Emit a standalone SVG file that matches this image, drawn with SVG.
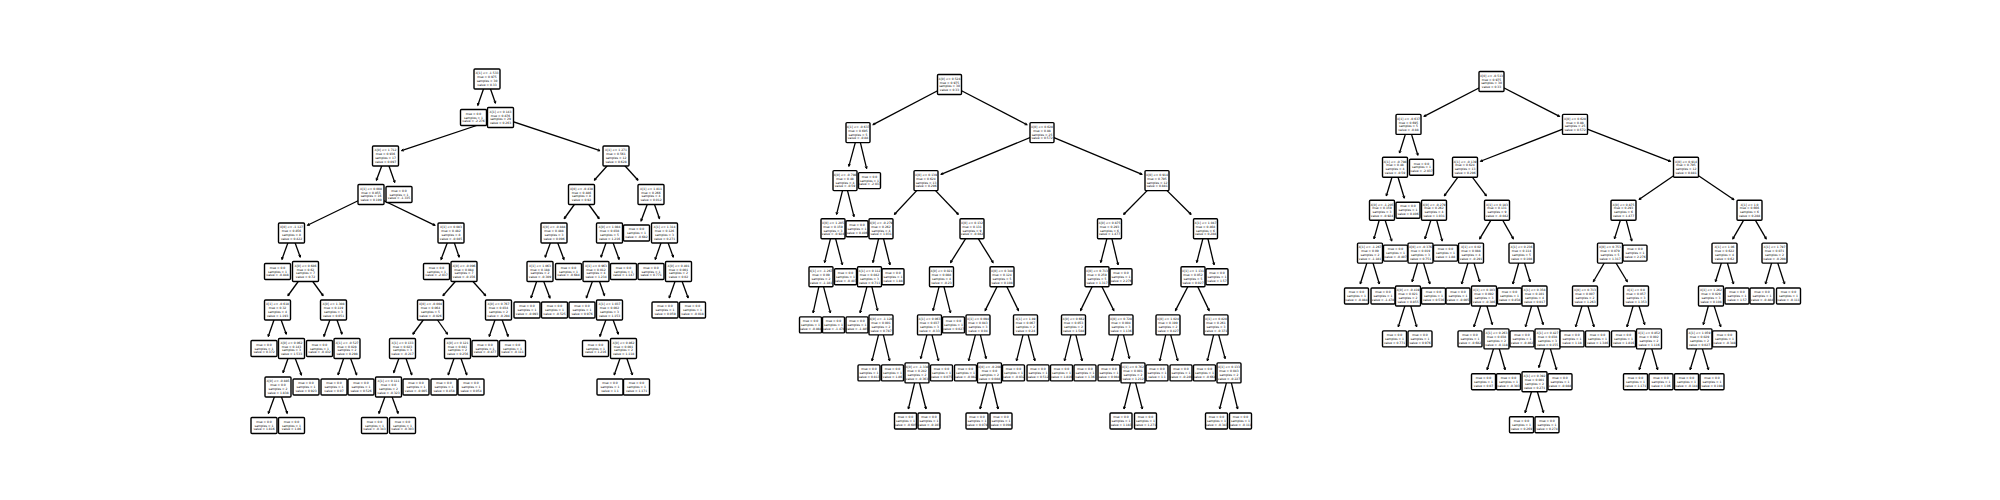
<svg xmlns="http://www.w3.org/2000/svg" xmlns:xlink="http://www.w3.org/1999/xlink" width="2000" height="500" viewBox="0 0 2000 500">
<defs>
<style>
.b{fill:#fff;stroke:#000;stroke-width:1.4}
text{font-family:"DejaVu Sans","Liberation Sans",sans-serif;font-size:3px;text-anchor:middle;fill:#000}
#connectors line{stroke:#000;stroke-width:1.3;fill:none;marker-end:url(#ah)}
</style>
<marker id="ah" viewBox="-4 -2 5 4" refX="0" refY="0" markerWidth="5" markerHeight="4" markerUnits="userSpaceOnUse" orient="auto" overflow="visible"><path d="M-2.2,-1.1 L0,0 L-2.2,1.1" fill="none" stroke="#000" stroke-width="0.9"/></marker>
<rect id="r1i" class="b" x="-13" y="-10" width="26" height="20" rx="1"/>
<rect id="r1l" class="b" x="-13" y="-8" width="26" height="16" rx="1"/>
<rect id="r2i" class="b" x="-12" y="-10" width="24" height="20" rx="1"/>
<rect id="r2l" class="b" x="-11" y="-8" width="22" height="16" rx="1"/>
<rect id="r3i" class="b" x="-12.5" y="-10" width="25" height="20" rx="1"/>
<rect id="r3l" class="b" x="-12" y="-8" width="24" height="16" rx="1"/>
</defs>
<rect width="2000" height="500" fill="#fff"/>
<g id="connectors">
<line x1="487" y1="79" x2="477.71" y2="105.5"/>
<line x1="487" y1="79" x2="495.5" y2="103.25"/>
<line x1="500.5" y1="117.5" x2="401.5" y2="150.64"/>
<line x1="500.5" y1="117.5" x2="600" y2="150.67"/>
<line x1="385.5" y1="156" x2="376.37" y2="180.25"/>
<line x1="385.5" y1="156" x2="394.79" y2="182.5"/>
<line x1="371" y1="194.5" x2="307.5" y2="225.25"/>
<line x1="371" y1="194.5" x2="435" y2="225.3"/>
<line x1="291.5" y1="233" x2="281.86" y2="259.5"/>
<line x1="291.5" y1="233" x2="300.32" y2="257.25"/>
<line x1="305.5" y1="271.5" x2="287.86" y2="295.75"/>
<line x1="305.5" y1="271.5" x2="323.14" y2="295.75"/>
<line x1="277.5" y1="310" x2="268.21" y2="336.5"/>
<line x1="277.5" y1="310" x2="286.32" y2="334.25"/>
<line x1="291.5" y1="348.5" x2="283" y2="372.75"/>
<line x1="291.5" y1="348.5" x2="301.48" y2="375"/>
<line x1="278" y1="387" x2="268.36" y2="413.5"/>
<line x1="278" y1="387" x2="287.29" y2="413.5"/>
<line x1="333.5" y1="310" x2="323.86" y2="336.5"/>
<line x1="333.5" y1="310" x2="342" y2="334.25"/>
<line x1="347" y1="348.5" x2="338.05" y2="375"/>
<line x1="347" y1="348.5" x2="356.64" y2="375"/>
<line x1="451" y1="233" x2="441.02" y2="259.5"/>
<line x1="451" y1="233" x2="459.19" y2="257.25"/>
<line x1="464" y1="271.5" x2="442.9" y2="295.75"/>
<line x1="464" y1="271.5" x2="485.73" y2="295.75"/>
<line x1="430.5" y1="310" x2="412.86" y2="334.25"/>
<line x1="430.5" y1="310" x2="447.51" y2="334.25"/>
<line x1="402.5" y1="348.5" x2="393.68" y2="372.75"/>
<line x1="402.5" y1="348.5" x2="411.79" y2="375"/>
<line x1="388.5" y1="387" x2="378.86" y2="413.5"/>
<line x1="388.5" y1="387" x2="398.14" y2="413.5"/>
<line x1="457.5" y1="348.5" x2="448.21" y2="375"/>
<line x1="457.5" y1="348.5" x2="466.79" y2="375"/>
<line x1="498.5" y1="310" x2="489.21" y2="336.5"/>
<line x1="498.5" y1="310" x2="508.14" y2="336.5"/>
<line x1="616" y1="156" x2="594.27" y2="180.25"/>
<line x1="616" y1="156" x2="638.05" y2="180.25"/>
<line x1="581.5" y1="194.5" x2="564.18" y2="218.75"/>
<line x1="581.5" y1="194.5" x2="599.14" y2="218.75"/>
<line x1="554" y1="233" x2="545.18" y2="257.25"/>
<line x1="554" y1="233" x2="563.98" y2="259.5"/>
<line x1="540" y1="271.5" x2="531.05" y2="298"/>
<line x1="540" y1="271.5" x2="549.98" y2="298"/>
<line x1="609.5" y1="233" x2="601" y2="257.25"/>
<line x1="609.5" y1="233" x2="619.14" y2="259.5"/>
<line x1="596" y1="271.5" x2="586.36" y2="298"/>
<line x1="596" y1="271.5" x2="604.5" y2="295.75"/>
<line x1="609.5" y1="310" x2="599.86" y2="336.5"/>
<line x1="609.5" y1="310" x2="618.32" y2="334.25"/>
<line x1="623.5" y1="348.5" x2="614.21" y2="375"/>
<line x1="623.5" y1="348.5" x2="632.45" y2="375"/>
<line x1="651" y1="194.5" x2="641.02" y2="221"/>
<line x1="651" y1="194.5" x2="659.5" y2="218.75"/>
<line x1="664.5" y1="233" x2="655.21" y2="259.5"/>
<line x1="664.5" y1="233" x2="673.32" y2="257.25"/>
<line x1="678.5" y1="271.5" x2="669.21" y2="298"/>
<line x1="678.5" y1="271.5" x2="688.14" y2="298"/>
<line x1="949.5" y1="84.5" x2="873" y2="124.69"/>
<line x1="949.5" y1="84.5" x2="1027" y2="124.77"/>
<line x1="858" y1="132.6" x2="848.85" y2="166.35"/>
<line x1="858" y1="132.6" x2="866.63" y2="168.6"/>
<line x1="845" y1="180.6" x2="836.56" y2="214.45"/>
<line x1="845" y1="180.6" x2="854" y2="216.7"/>
<line x1="833" y1="228.7" x2="824.56" y2="262.55"/>
<line x1="833" y1="228.7" x2="842.38" y2="264.8"/>
<line x1="821" y1="276.8" x2="813.12" y2="312.9"/>
<line x1="821" y1="276.8" x2="830.38" y2="312.9"/>
<line x1="1042" y1="132.6" x2="941" y2="174.45"/>
<line x1="1042" y1="132.6" x2="1142" y2="174.4"/>
<line x1="926" y1="180.6" x2="894.34" y2="214.45"/>
<line x1="926" y1="180.6" x2="958.37" y2="214.45"/>
<line x1="881" y1="228.7" x2="872.91" y2="262.55"/>
<line x1="881" y1="228.7" x2="890" y2="264.8"/>
<line x1="869.5" y1="276.8" x2="860.12" y2="312.9"/>
<line x1="869.5" y1="276.8" x2="877.59" y2="310.65"/>
<line x1="881" y1="324.9" x2="872" y2="360.9"/>
<line x1="881" y1="324.9" x2="889.63" y2="360.9"/>
<line x1="972" y1="228.7" x2="950.54" y2="262.55"/>
<line x1="972" y1="228.7" x2="993.11" y2="262.55"/>
<line x1="941.5" y1="276.8" x2="933.06" y2="310.65"/>
<line x1="941.5" y1="276.8" x2="950.5" y2="312.9"/>
<line x1="929.5" y1="324.9" x2="920.7" y2="358.65"/>
<line x1="929.5" y1="324.9" x2="938.5" y2="360.9"/>
<line x1="917" y1="372.9" x2="908.37" y2="409"/>
<line x1="917" y1="372.9" x2="926" y2="409"/>
<line x1="1002" y1="276.8" x2="985.11" y2="310.65"/>
<line x1="1002" y1="276.8" x2="1018.53" y2="310.65"/>
<line x1="978" y1="324.9" x2="968.62" y2="360.9"/>
<line x1="978" y1="324.9" x2="986.09" y2="358.65"/>
<line x1="989.5" y1="372.9" x2="980.12" y2="409"/>
<line x1="989.5" y1="372.9" x2="998.13" y2="409"/>
<line x1="1025.5" y1="324.9" x2="1016.5" y2="360.9"/>
<line x1="1025.5" y1="324.9" x2="1034.88" y2="360.9"/>
<line x1="1157" y1="180.6" x2="1123.58" y2="214.45"/>
<line x1="1157" y1="180.6" x2="1191.12" y2="214.45"/>
<line x1="1109.5" y1="228.7" x2="1100.7" y2="262.55"/>
<line x1="1109.5" y1="228.7" x2="1118.13" y2="264.8"/>
<line x1="1097" y1="276.8" x2="1080.47" y2="310.65"/>
<line x1="1097" y1="276.8" x2="1113.89" y2="310.65"/>
<line x1="1073.5" y1="324.9" x2="1064.5" y2="360.9"/>
<line x1="1073.5" y1="324.9" x2="1082.13" y2="360.9"/>
<line x1="1121" y1="324.9" x2="1112" y2="360.9"/>
<line x1="1121" y1="324.9" x2="1129.44" y2="358.65"/>
<line x1="1133" y1="372.9" x2="1124" y2="409"/>
<line x1="1133" y1="372.9" x2="1142.38" y2="409"/>
<line x1="1205.5" y1="228.7" x2="1196.7" y2="262.55"/>
<line x1="1205.5" y1="228.7" x2="1214.13" y2="264.8"/>
<line x1="1193" y1="276.8" x2="1175.41" y2="310.65"/>
<line x1="1193" y1="276.8" x2="1209.18" y2="310.65"/>
<line x1="1168" y1="324.9" x2="1159.75" y2="360.9"/>
<line x1="1168" y1="324.9" x2="1177.76" y2="360.9"/>
<line x1="1216" y1="324.9" x2="1207.37" y2="360.9"/>
<line x1="1216" y1="324.9" x2="1225.15" y2="358.65"/>
<line x1="1229" y1="372.9" x2="1219.62" y2="409"/>
<line x1="1229" y1="372.9" x2="1237.63" y2="409"/>
<line x1="1491.5" y1="81.5" x2="1424" y2="116.39"/>
<line x1="1491.5" y1="81.5" x2="1559.5" y2="116.44"/>
<line x1="1408.5" y1="124.4" x2="1399.48" y2="153.05"/>
<line x1="1408.5" y1="124.4" x2="1417.86" y2="155.3"/>
<line x1="1395" y1="167.3" x2="1386.32" y2="195.95"/>
<line x1="1395" y1="167.3" x2="1404.36" y2="198.2"/>
<line x1="1382" y1="210.2" x2="1373.99" y2="238.85"/>
<line x1="1382" y1="210.2" x2="1391.72" y2="241.1"/>
<line x1="1370" y1="253.1" x2="1360.28" y2="284"/>
<line x1="1370" y1="253.1" x2="1379.36" y2="284"/>
<line x1="1575" y1="124.4" x2="1480.5" y2="161.26"/>
<line x1="1575" y1="124.4" x2="1670.5" y2="161.31"/>
<line x1="1465" y1="167.3" x2="1444.3" y2="195.95"/>
<line x1="1465" y1="167.3" x2="1486.37" y2="195.95"/>
<line x1="1434" y1="210.2" x2="1424.98" y2="238.85"/>
<line x1="1434" y1="210.2" x2="1442.28" y2="241.1"/>
<line x1="1420.5" y1="253.1" x2="1412.15" y2="281.75"/>
<line x1="1420.5" y1="253.1" x2="1429.86" y2="284"/>
<line x1="1408" y1="296" x2="1398.28" y2="326.9"/>
<line x1="1408" y1="296" x2="1416.64" y2="326.9"/>
<line x1="1497" y1="210.2" x2="1479.64" y2="238.85"/>
<line x1="1497" y1="210.2" x2="1513.36" y2="238.85"/>
<line x1="1471" y1="253.1" x2="1461.64" y2="284"/>
<line x1="1471" y1="253.1" x2="1479.68" y2="281.75"/>
<line x1="1484" y1="296" x2="1473.92" y2="326.9"/>
<line x1="1484" y1="296" x2="1492.35" y2="324.65"/>
<line x1="1496.5" y1="338.9" x2="1487.14" y2="369.8"/>
<line x1="1496.5" y1="338.9" x2="1505.14" y2="369.8"/>
<line x1="1521.5" y1="253.1" x2="1512.86" y2="284"/>
<line x1="1521.5" y1="253.1" x2="1530.18" y2="281.75"/>
<line x1="1534.5" y1="296" x2="1525.5" y2="326.9"/>
<line x1="1534.5" y1="296" x2="1543.18" y2="324.65"/>
<line x1="1547.5" y1="338.9" x2="1538.82" y2="367.55"/>
<line x1="1547.5" y1="338.9" x2="1556.5" y2="369.8"/>
<line x1="1534.5" y1="381.8" x2="1525.14" y2="412.7"/>
<line x1="1534.5" y1="381.8" x2="1543.5" y2="412.7"/>
<line x1="1686" y1="167.3" x2="1639" y2="199.56"/>
<line x1="1686" y1="167.3" x2="1734" y2="199.73"/>
<line x1="1623.5" y1="210.2" x2="1614.48" y2="238.85"/>
<line x1="1623.5" y1="210.2" x2="1631.78" y2="241.1"/>
<line x1="1610" y1="253.1" x2="1593.3" y2="281.75"/>
<line x1="1610" y1="253.1" x2="1627.36" y2="281.75"/>
<line x1="1585" y1="296" x2="1575.64" y2="326.9"/>
<line x1="1585" y1="296" x2="1594" y2="326.9"/>
<line x1="1636" y1="296" x2="1627" y2="326.9"/>
<line x1="1636" y1="296" x2="1644.68" y2="324.65"/>
<line x1="1649" y1="338.9" x2="1639.28" y2="369.8"/>
<line x1="1649" y1="338.9" x2="1657.64" y2="369.8"/>
<line x1="1749.5" y1="210.2" x2="1732.81" y2="238.85"/>
<line x1="1749.5" y1="210.2" x2="1766.2" y2="238.85"/>
<line x1="1724.5" y1="253.1" x2="1715.48" y2="281.75"/>
<line x1="1724.5" y1="253.1" x2="1733.5" y2="284"/>
<line x1="1711" y1="296" x2="1703.32" y2="324.65"/>
<line x1="1711" y1="296" x2="1720.72" y2="326.9"/>
<line x1="1699.5" y1="338.9" x2="1690.14" y2="369.8"/>
<line x1="1699.5" y1="338.9" x2="1708.5" y2="369.8"/>
<line x1="1774.5" y1="253.1" x2="1765.5" y2="284"/>
<line x1="1774.5" y1="253.1" x2="1784.58" y2="284"/>
</g>
<g id="tree1">
<g id="t1-n0" transform="translate(487 79)"><use href="#r1i"/><text y="-4.65"><tspan x="0">X[1] &lt;= -1.533</tspan><tspan x="0" dy="3.8">mse = 0.975</tspan><tspan x="0" dy="3.8">samples = 30</tspan><tspan x="0" dy="3.8">value = 0.33</tspan></text></g>
<g id="t1-n1" transform="translate(473.5 117.5)"><use href="#r1l"/><text y="-2.75"><tspan x="0">mse = 0.0</tspan><tspan x="0" dy="3.8">samples = 1</tspan><tspan x="0" dy="3.8">value = -2.276</tspan></text></g>
<g id="t1-n2" transform="translate(500.5 117.5)"><use href="#r1i"/><text y="-4.65"><tspan x="0">X[1] &lt;= 0.143</tspan><tspan x="0" dy="3.8">mse = 0.876</tspan><tspan x="0" dy="3.8">samples = 29</tspan><tspan x="0" dy="3.8">value = 0.263</tspan></text></g>
<g id="t1-n3" transform="translate(385.5 156)"><use href="#r1i"/><text y="-4.65"><tspan x="0">X[0] &lt;= 1.712</tspan><tspan x="0" dy="3.8">mse = 0.936</tspan><tspan x="0" dy="3.8">samples = 17</tspan><tspan x="0" dy="3.8">value = 0.097</tspan></text></g>
<g id="t1-n4" transform="translate(371 194.5)"><use href="#r1i"/><text y="-4.65"><tspan x="0">X[1] &lt;= 0.008</tspan><tspan x="0" dy="3.8">mse = 0.855</tspan><tspan x="0" dy="3.8">samples = 16</tspan><tspan x="0" dy="3.8">value = 0.199</tspan></text></g>
<g id="t1-n5" transform="translate(291.5 233)"><use href="#r1i"/><text y="-4.65"><tspan x="0">X[0] &lt;= -1.127</tspan><tspan x="0" dy="3.8">mse = 0.856</tspan><tspan x="0" dy="3.8">samples = 8</tspan><tspan x="0" dy="3.8">value = 0.422</tspan></text></g>
<g id="t1-n6" transform="translate(277.5 271.5)"><use href="#r1l"/><text y="-2.75"><tspan x="0">mse = 0.0</tspan><tspan x="0" dy="3.8">samples = 1</tspan><tspan x="0" dy="3.8">value = -0.848</tspan></text></g>
<g id="t1-n7" transform="translate(305.5 271.5)"><use href="#r1i"/><text y="-4.65"><tspan x="0">X[0] &lt;= 0.686</tspan><tspan x="0" dy="3.8">mse = 0.62</tspan><tspan x="0" dy="3.8">samples = 7</tspan><tspan x="0" dy="3.8">value = 0.72</tspan></text></g>
<g id="t1-n8" transform="translate(277.5 310)"><use href="#r1i"/><text y="-4.65"><tspan x="0">X[1] &lt;= -0.618</tspan><tspan x="0" dy="3.8">mse = 0.32</tspan><tspan x="0" dy="3.8">samples = 4</tspan><tspan x="0" dy="3.8">value = 1.193</tspan></text></g>
<g id="t1-n9" transform="translate(264 348.5)"><use href="#r1l"/><text y="-2.75"><tspan x="0">mse = 0.0</tspan><tspan x="0" dy="3.8">samples = 1</tspan><tspan x="0" dy="3.8">value = 0.372</tspan></text></g>
<g id="t1-n10" transform="translate(291.5 348.5)"><use href="#r1i"/><text y="-4.65"><tspan x="0">X[0] &lt;= 0.062</tspan><tspan x="0" dy="3.8">mse = 0.143</tspan><tspan x="0" dy="3.8">samples = 3</tspan><tspan x="0" dy="3.8">value = 1.533</tspan></text></g>
<g id="t1-n11" transform="translate(278 387)"><use href="#r1i"/><text y="-4.65"><tspan x="0">X[0] &lt;= -0.885</tspan><tspan x="0" dy="3.8">mse = 0.0</tspan><tspan x="0" dy="3.8">samples = 2</tspan><tspan x="0" dy="3.8">value = 1.838</tspan></text></g>
<g id="t1-n12" transform="translate(264 425.5)"><use href="#r1l"/><text y="-2.75"><tspan x="0">mse = 0.0</tspan><tspan x="0" dy="3.8">samples = 1</tspan><tspan x="0" dy="3.8">value = 1.816</tspan></text></g>
<g id="t1-n13" transform="translate(291.5 425.5)"><use href="#r1l"/><text y="-2.75"><tspan x="0">mse = 0.0</tspan><tspan x="0" dy="3.8">samples = 1</tspan><tspan x="0" dy="3.8">value = 1.86</tspan></text></g>
<g id="t1-n14" transform="translate(306 387)"><use href="#r1l"/><text y="-2.75"><tspan x="0">mse = 0.0</tspan><tspan x="0" dy="3.8">samples = 1</tspan><tspan x="0" dy="3.8">value = 0.923</tspan></text></g>
<g id="t1-n15" transform="translate(333.5 310)"><use href="#r1i"/><text y="-4.65"><tspan x="0">X[0] &lt;= 1.308</tspan><tspan x="0" dy="3.8">mse = 0.119</tspan><tspan x="0" dy="3.8">samples = 3</tspan><tspan x="0" dy="3.8">value = 0.051</tspan></text></g>
<g id="t1-n16" transform="translate(319.5 348.5)"><use href="#r1l"/><text y="-2.75"><tspan x="0">mse = 0.0</tspan><tspan x="0" dy="3.8">samples = 1</tspan><tspan x="0" dy="3.8">value = -0.432</tspan></text></g>
<g id="t1-n17" transform="translate(347 348.5)"><use href="#r1i"/><text y="-4.65"><tspan x="0">X[1] &lt;= -0.527</tspan><tspan x="0" dy="3.8">mse = 0.028</tspan><tspan x="0" dy="3.8">samples = 2</tspan><tspan x="0" dy="3.8">value = 0.298</tspan></text></g>
<g id="t1-n18" transform="translate(334 387)"><use href="#r1l"/><text y="-2.75"><tspan x="0">mse = 0.0</tspan><tspan x="0" dy="3.8">samples = 1</tspan><tspan x="0" dy="3.8">value = 0.07</tspan></text></g>
<g id="t1-n19" transform="translate(361 387)"><use href="#r1l"/><text y="-2.75"><tspan x="0">mse = 0.0</tspan><tspan x="0" dy="3.8">samples = 1</tspan><tspan x="0" dy="3.8">value = 0.526</tspan></text></g>
<g id="t1-n20" transform="translate(451 233)"><use href="#r1i"/><text y="-4.65"><tspan x="0">X[1] &lt;= 0.083</tspan><tspan x="0" dy="3.8">mse = 0.482</tspan><tspan x="0" dy="3.8">samples = 8</tspan><tspan x="0" dy="3.8">value = -0.045</tspan></text></g>
<g id="t1-n21" transform="translate(436.5 271.5)"><use href="#r1l"/><text y="-2.75"><tspan x="0">mse = 0.0</tspan><tspan x="0" dy="3.8">samples = 1</tspan><tspan x="0" dy="3.8">value = -2.037</tspan></text></g>
<g id="t1-n22" transform="translate(464 271.5)"><use href="#r1i"/><text y="-4.65"><tspan x="0">X[0] &lt;= -0.096</tspan><tspan x="0" dy="3.8">mse = 0.084</tspan><tspan x="0" dy="3.8">samples = 7</tspan><tspan x="0" dy="3.8">value = -0.156</tspan></text></g>
<g id="t1-n23" transform="translate(430.5 310)"><use href="#r1i"/><text y="-4.65"><tspan x="0">X[0] &lt;= -0.004</tspan><tspan x="0" dy="3.8">mse = 0.064</tspan><tspan x="0" dy="3.8">samples = 5</tspan><tspan x="0" dy="3.8">value = -0.026</tspan></text></g>
<g id="t1-n24" transform="translate(402.5 348.5)"><use href="#r1i"/><text y="-4.65"><tspan x="0">X[1] &lt;= 0.133</tspan><tspan x="0" dy="3.8">mse = 0.023</tspan><tspan x="0" dy="3.8">samples = 3</tspan><tspan x="0" dy="3.8">value = -0.217</tspan></text></g>
<g id="t1-n25" transform="translate(388.5 387)"><use href="#r1i"/><text y="-4.65"><tspan x="0">X[1] &lt;= 0.111</tspan><tspan x="0" dy="3.8">mse = 0.0</tspan><tspan x="0" dy="3.8">samples = 2</tspan><tspan x="0" dy="3.8">value = -0.323</tspan></text></g>
<g id="t1-n26" transform="translate(374.5 425.5)"><use href="#r1l"/><text y="-2.75"><tspan x="0">mse = 0.0</tspan><tspan x="0" dy="3.8">samples = 1</tspan><tspan x="0" dy="3.8">value = -0.343</tspan></text></g>
<g id="t1-n27" transform="translate(402.5 425.5)"><use href="#r1l"/><text y="-2.75"><tspan x="0">mse = 0.0</tspan><tspan x="0" dy="3.8">samples = 1</tspan><tspan x="0" dy="3.8">value = -0.303</tspan></text></g>
<g id="t1-n28" transform="translate(416 387)"><use href="#r1l"/><text y="-2.75"><tspan x="0">mse = 0.0</tspan><tspan x="0" dy="3.8">samples = 1</tspan><tspan x="0" dy="3.8">value = -0.005</tspan></text></g>
<g id="t1-n29" transform="translate(457.5 348.5)"><use href="#r1i"/><text y="-4.65"><tspan x="0">X[0] &lt;= 0.121</tspan><tspan x="0" dy="3.8">mse = 0.041</tspan><tspan x="0" dy="3.8">samples = 2</tspan><tspan x="0" dy="3.8">value = 0.256</tspan></text></g>
<g id="t1-n30" transform="translate(444 387)"><use href="#r1l"/><text y="-2.75"><tspan x="0">mse = 0.0</tspan><tspan x="0" dy="3.8">samples = 1</tspan><tspan x="0" dy="3.8">value = 0.458</tspan></text></g>
<g id="t1-n31" transform="translate(471 387)"><use href="#r1l"/><text y="-2.75"><tspan x="0">mse = 0.0</tspan><tspan x="0" dy="3.8">samples = 1</tspan><tspan x="0" dy="3.8">value = 0.054</tspan></text></g>
<g id="t1-n32" transform="translate(498.5 310)"><use href="#r1i"/><text y="-4.65"><tspan x="0">X[0] &lt;= 0.767</tspan><tspan x="0" dy="3.8">mse = 0.034</tspan><tspan x="0" dy="3.8">samples = 2</tspan><tspan x="0" dy="3.8">value = -0.294</tspan></text></g>
<g id="t1-n33" transform="translate(485 348.5)"><use href="#r1l"/><text y="-2.75"><tspan x="0">mse = 0.0</tspan><tspan x="0" dy="3.8">samples = 1</tspan><tspan x="0" dy="3.8">value = -0.477</tspan></text></g>
<g id="t1-n34" transform="translate(512.5 348.5)"><use href="#r1l"/><text y="-2.75"><tspan x="0">mse = 0.0</tspan><tspan x="0" dy="3.8">samples = 1</tspan><tspan x="0" dy="3.8">value = -0.111</tspan></text></g>
<g id="t1-n35" transform="translate(399 194.5)"><use href="#r1l"/><text y="-2.75"><tspan x="0">mse = 0.0</tspan><tspan x="0" dy="3.8">samples = 1</tspan><tspan x="0" dy="3.8">value = -1.335</tspan></text></g>
<g id="t1-n36" transform="translate(616 156)"><use href="#r1i"/><text y="-4.65"><tspan x="0">X[1] &lt;= 1.271</tspan><tspan x="0" dy="3.8">mse = 0.561</tspan><tspan x="0" dy="3.8">samples = 12</tspan><tspan x="0" dy="3.8">value = 0.628</tspan></text></g>
<g id="t1-n37" transform="translate(581.5 194.5)"><use href="#r1i"/><text y="-4.65"><tspan x="0">X[0] &lt;= -0.438</tspan><tspan x="0" dy="3.8">mse = 0.486</tspan><tspan x="0" dy="3.8">samples = 8</tspan><tspan x="0" dy="3.8">value = 0.92</tspan></text></g>
<g id="t1-n38" transform="translate(554 233)"><use href="#r1i"/><text y="-4.65"><tspan x="0">X[0] &lt;= -0.884</tspan><tspan x="0" dy="3.8">mse = 0.488</tspan><tspan x="0" dy="3.8">samples = 3</tspan><tspan x="0" dy="3.8">value = 0.096</tspan></text></g>
<g id="t1-n39" transform="translate(540 271.5)"><use href="#r1i"/><text y="-4.65"><tspan x="0">X[1] &lt;= 1.063</tspan><tspan x="0" dy="3.8">mse = 0.188</tspan><tspan x="0" dy="3.8">samples = 2</tspan><tspan x="0" dy="3.8">value = -0.309</tspan></text></g>
<g id="t1-n40" transform="translate(527 310)"><use href="#r1l"/><text y="-2.75"><tspan x="0">mse = 0.0</tspan><tspan x="0" dy="3.8">samples = 1</tspan><tspan x="0" dy="3.8">value = -0.093</tspan></text></g>
<g id="t1-n41" transform="translate(554.5 310)"><use href="#r1l"/><text y="-2.75"><tspan x="0">mse = 0.0</tspan><tspan x="0" dy="3.8">samples = 1</tspan><tspan x="0" dy="3.8">value = -0.525</tspan></text></g>
<g id="t1-n42" transform="translate(568.5 271.5)"><use href="#r1l"/><text y="-2.75"><tspan x="0">mse = 0.0</tspan><tspan x="0" dy="3.8">samples = 1</tspan><tspan x="0" dy="3.8">value = -0.684</tspan></text></g>
<g id="t1-n43" transform="translate(609.5 233)"><use href="#r1i"/><text y="-4.65"><tspan x="0">X[0] &lt;= 1.084</tspan><tspan x="0" dy="3.8">mse = 0.038</tspan><tspan x="0" dy="3.8">samples = 5</tspan><tspan x="0" dy="3.8">value = 1.216</tspan></text></g>
<g id="t1-n44" transform="translate(596 271.5)"><use href="#r1i"/><text y="-4.65"><tspan x="0">X[1] &lt;= 0.963</tspan><tspan x="0" dy="3.8">mse = 0.012</tspan><tspan x="0" dy="3.8">samples = 4</tspan><tspan x="0" dy="3.8">value = 1.234</tspan></text></g>
<g id="t1-n45" transform="translate(582 310)"><use href="#r1l"/><text y="-2.75"><tspan x="0">mse = 0.0</tspan><tspan x="0" dy="3.8">samples = 1</tspan><tspan x="0" dy="3.8">value = 0.976</tspan></text></g>
<g id="t1-n46" transform="translate(609.5 310)"><use href="#r1i"/><text y="-4.65"><tspan x="0">X[1] &lt;= 1.037</tspan><tspan x="0" dy="3.8">mse = 0.002</tspan><tspan x="0" dy="3.8">samples = 3</tspan><tspan x="0" dy="3.8">value = 1.153</tspan></text></g>
<g id="t1-n47" transform="translate(595.5 348.5)"><use href="#r1l"/><text y="-2.75"><tspan x="0">mse = 0.0</tspan><tspan x="0" dy="3.8">samples = 1</tspan><tspan x="0" dy="3.8">value = 1.216</tspan></text></g>
<g id="t1-n48" transform="translate(623.5 348.5)"><use href="#r1i"/><text y="-4.65"><tspan x="0">X[0] &lt;= 0.862</tspan><tspan x="0" dy="3.8">mse = 0.001</tspan><tspan x="0" dy="3.8">samples = 2</tspan><tspan x="0" dy="3.8">value = 1.118</tspan></text></g>
<g id="t1-n49" transform="translate(610 387)"><use href="#r1l"/><text y="-2.75"><tspan x="0">mse = 0.0</tspan><tspan x="0" dy="3.8">samples = 1</tspan><tspan x="0" dy="3.8">value = 1.1</tspan></text></g>
<g id="t1-n50" transform="translate(636.5 387)"><use href="#r1l"/><text y="-2.75"><tspan x="0">mse = 0.0</tspan><tspan x="0" dy="3.8">samples = 1</tspan><tspan x="0" dy="3.8">value = 1.171</tspan></text></g>
<g id="t1-n51" transform="translate(623.5 271.5)"><use href="#r1l"/><text y="-2.75"><tspan x="0">mse = 0.0</tspan><tspan x="0" dy="3.8">samples = 1</tspan><tspan x="0" dy="3.8">value = 1.147</tspan></text></g>
<g id="t1-n52" transform="translate(651 194.5)"><use href="#r1i"/><text y="-4.65"><tspan x="0">X[1] &lt;= 1.811</tspan><tspan x="0" dy="3.8">mse = 0.266</tspan><tspan x="0" dy="3.8">samples = 4</tspan><tspan x="0" dy="3.8">value = 0.012</tspan></text></g>
<g id="t1-n53" transform="translate(636.5 233)"><use href="#r1l"/><text y="-2.75"><tspan x="0">mse = 0.0</tspan><tspan x="0" dy="3.8">samples = 1</tspan><tspan x="0" dy="3.8">value = -0.682</tspan></text></g>
<g id="t1-n54" transform="translate(664.5 233)"><use href="#r1i"/><text y="-4.65"><tspan x="0">X[1] &lt;= 1.314</tspan><tspan x="0" dy="3.8">mse = 0.126</tspan><tspan x="0" dy="3.8">samples = 3</tspan><tspan x="0" dy="3.8">value = 0.271</tspan></text></g>
<g id="t1-n55" transform="translate(651 271.5)"><use href="#r1l"/><text y="-2.75"><tspan x="0">mse = 0.0</tspan><tspan x="0" dy="3.8">samples = 1</tspan><tspan x="0" dy="3.8">value = 0.771</tspan></text></g>
<g id="t1-n56" transform="translate(678.5 271.5)"><use href="#r1i"/><text y="-4.65"><tspan x="0">X[0] &lt;= 0.401</tspan><tspan x="0" dy="3.8">mse = 0.001</tspan><tspan x="0" dy="3.8">samples = 2</tspan><tspan x="0" dy="3.8">value = 0.02</tspan></text></g>
<g id="t1-n57" transform="translate(665 310)"><use href="#r1l"/><text y="-2.75"><tspan x="0">mse = 0.0</tspan><tspan x="0" dy="3.8">samples = 1</tspan><tspan x="0" dy="3.8">value = 0.059</tspan></text></g>
<g id="t1-n58" transform="translate(692.5 310)"><use href="#r1l"/><text y="-2.75"><tspan x="0">mse = 0.0</tspan><tspan x="0" dy="3.8">samples = 1</tspan><tspan x="0" dy="3.8">value = -0.018</tspan></text></g>
</g>
<g id="tree2">
<g id="t2-n0" transform="translate(949.5 84.5)"><use href="#r2i"/><text y="-4.65"><tspan x="0">X[0] &lt;= 0.524</tspan><tspan x="0" dy="3.8">mse = 0.975</tspan><tspan x="0" dy="3.8">samples = 30</tspan><tspan x="0" dy="3.8">value = 0.33</tspan></text></g>
<g id="t2-n1" transform="translate(858 132.6)"><use href="#r2i"/><text y="-4.65"><tspan x="0">X[1] &lt;= -0.637</tspan><tspan x="0" dy="3.8">mse = 0.695</tspan><tspan x="0" dy="3.8">samples = 5</tspan><tspan x="0" dy="3.8">value = -0.88</tspan></text></g>
<g id="t2-n2" transform="translate(845 180.6)"><use href="#r2i"/><text y="-4.65"><tspan x="0">X[0] &lt;= -0.798</tspan><tspan x="0" dy="3.8">mse = 0.48</tspan><tspan x="0" dy="3.8">samples = 4</tspan><tspan x="0" dy="3.8">value = -0.59</tspan></text></g>
<g id="t2-n3" transform="translate(833 228.7)"><use href="#r2i"/><text y="-4.65"><tspan x="0">X[0] &lt;= 1.205</tspan><tspan x="0" dy="3.8">mse = 0.159</tspan><tspan x="0" dy="3.8">samples = 3</tspan><tspan x="0" dy="3.8">value = -0.924</tspan></text></g>
<g id="t2-n4" transform="translate(821 276.8)"><use href="#r2i"/><text y="-4.65"><tspan x="0">X[1] &lt;= -1.267</tspan><tspan x="0" dy="3.8">mse = 0.09</tspan><tspan x="0" dy="3.8">samples = 2</tspan><tspan x="0" dy="3.8">value = -1.181</tspan></text></g>
<g id="t2-n5" transform="translate(810.5 324.9)"><use href="#r2l"/><text y="-2.75"><tspan x="0">mse = 0.0</tspan><tspan x="0" dy="3.8">samples = 1</tspan><tspan x="0" dy="3.8">value = -0.884</tspan></text></g>
<g id="t2-n6" transform="translate(833.5 324.9)"><use href="#r2l"/><text y="-2.75"><tspan x="0">mse = 0.0</tspan><tspan x="0" dy="3.8">samples = 1</tspan><tspan x="0" dy="3.8">value = -1.478</tspan></text></g>
<g id="t2-n7" transform="translate(845.5 276.8)"><use href="#r2l"/><text y="-2.75"><tspan x="0">mse = 0.0</tspan><tspan x="0" dy="3.8">samples = 1</tspan><tspan x="0" dy="3.8">value = -0.407</tspan></text></g>
<g id="t2-n8" transform="translate(857 228.7)"><use href="#r2l"/><text y="-2.75"><tspan x="0">mse = 0.0</tspan><tspan x="0" dy="3.8">samples = 1</tspan><tspan x="0" dy="3.8">value = 0.406</tspan></text></g>
<g id="t2-n9" transform="translate(869.5 180.6)"><use href="#r2l"/><text y="-2.75"><tspan x="0">mse = 0.0</tspan><tspan x="0" dy="3.8">samples = 1</tspan><tspan x="0" dy="3.8">value = -2.037</tspan></text></g>
<g id="t2-n10" transform="translate(1042 132.6)"><use href="#r2i"/><text y="-4.65"><tspan x="0">X[0] &lt;= 0.628</tspan><tspan x="0" dy="3.8">mse = 0.88</tspan><tspan x="0" dy="3.8">samples = 25</tspan><tspan x="0" dy="3.8">value = 0.572</tspan></text></g>
<g id="t2-n11" transform="translate(926 180.6)"><use href="#r2i"/><text y="-4.65"><tspan x="0">X[0] &lt;= 0.139</tspan><tspan x="0" dy="3.8">mse = 0.624</tspan><tspan x="0" dy="3.8">samples = 13</tspan><tspan x="0" dy="3.8">value = 0.296</tspan></text></g>
<g id="t2-n12" transform="translate(881 228.7)"><use href="#r2i"/><text y="-4.65"><tspan x="0">X[0] &lt;= -0.279</tspan><tspan x="0" dy="3.8">mse = 0.262</tspan><tspan x="0" dy="3.8">samples = 4</tspan><tspan x="0" dy="3.8">value = 1.031</tspan></text></g>
<g id="t2-n13" transform="translate(869.5 276.8)"><use href="#r2i"/><text y="-4.65"><tspan x="0">X[1] &lt;= 0.112</tspan><tspan x="0" dy="3.8">mse = 0.042</tspan><tspan x="0" dy="3.8">samples = 3</tspan><tspan x="0" dy="3.8">value = 0.711</tspan></text></g>
<g id="t2-n14" transform="translate(857 324.9)"><use href="#r2l"/><text y="-2.75"><tspan x="0">mse = 0.0</tspan><tspan x="0" dy="3.8">samples = 1</tspan><tspan x="0" dy="3.8">value = -1.485</tspan></text></g>
<g id="t2-n15" transform="translate(881 324.9)"><use href="#r2i"/><text y="-4.65"><tspan x="0">X[0] &lt;= -1.128</tspan><tspan x="0" dy="3.8">mse = 0.001</tspan><tspan x="0" dy="3.8">samples = 2</tspan><tspan x="0" dy="3.8">value = 0.787</tspan></text></g>
<g id="t2-n16" transform="translate(869 372.9)"><use href="#r2l"/><text y="-2.75"><tspan x="0">mse = 0.0</tspan><tspan x="0" dy="3.8">samples = 1</tspan><tspan x="0" dy="3.8">value = 0.813</tspan></text></g>
<g id="t2-n17" transform="translate(892.5 372.9)"><use href="#r2l"/><text y="-2.75"><tspan x="0">mse = 0.0</tspan><tspan x="0" dy="3.8">samples = 1</tspan><tspan x="0" dy="3.8">value = 1.86</tspan></text></g>
<g id="t2-n18" transform="translate(893 276.8)"><use href="#r2l"/><text y="-2.75"><tspan x="0">mse = 0.0</tspan><tspan x="0" dy="3.8">samples = 1</tspan><tspan x="0" dy="3.8">value = 1.88</tspan></text></g>
<g id="t2-n19" transform="translate(972 228.7)"><use href="#r2i"/><text y="-4.65"><tspan x="0">X[0] &lt;= 0.132</tspan><tspan x="0" dy="3.8">mse = 0.131</tspan><tspan x="0" dy="3.8">samples = 9</tspan><tspan x="0" dy="3.8">value = -0.042</tspan></text></g>
<g id="t2-n20" transform="translate(941.5 276.8)"><use href="#r2i"/><text y="-4.65"><tspan x="0">X[0] &lt;= 0.021</tspan><tspan x="0" dy="3.8">mse = 0.088</tspan><tspan x="0" dy="3.8">samples = 4</tspan><tspan x="0" dy="3.8">value = -0.23</tspan></text></g>
<g id="t2-n21" transform="translate(929.5 324.9)"><use href="#r2i"/><text y="-4.65"><tspan x="0">X[1] &lt;= 0.063</tspan><tspan x="0" dy="3.8">mse = 0.037</tspan><tspan x="0" dy="3.8">samples = 3</tspan><tspan x="0" dy="3.8">value = -0.33</tspan></text></g>
<g id="t2-n22" transform="translate(917 372.9)"><use href="#r2i"/><text y="-4.65"><tspan x="0">X[0] &lt;= -1.338</tspan><tspan x="0" dy="3.8">mse = 0.242</tspan><tspan x="0" dy="3.8">samples = 2</tspan><tspan x="0" dy="3.8">value = -0.363</tspan></text></g>
<g id="t2-n23" transform="translate(905.5 421)"><use href="#r2l"/><text y="-2.75"><tspan x="0">mse = 0.0</tspan><tspan x="0" dy="3.8">samples = 1</tspan><tspan x="0" dy="3.8">value = -0.605</tspan></text></g>
<g id="t2-n24" transform="translate(929 421)"><use href="#r2l"/><text y="-2.75"><tspan x="0">mse = 0.0</tspan><tspan x="0" dy="3.8">samples = 1</tspan><tspan x="0" dy="3.8">value = -0.103</tspan></text></g>
<g id="t2-n25" transform="translate(941.5 372.9)"><use href="#r2l"/><text y="-2.75"><tspan x="0">mse = 0.0</tspan><tspan x="0" dy="3.8">samples = 1</tspan><tspan x="0" dy="3.8">value = 0.075</tspan></text></g>
<g id="t2-n26" transform="translate(953.5 324.9)"><use href="#r2l"/><text y="-2.75"><tspan x="0">mse = 0.0</tspan><tspan x="0" dy="3.8">samples = 1</tspan><tspan x="0" dy="3.8">value = 0.027</tspan></text></g>
<g id="t2-n27" transform="translate(1002 276.8)"><use href="#r2i"/><text y="-4.65"><tspan x="0">X[0] &lt;= 0.348</tspan><tspan x="0" dy="3.8">mse = 0.124</tspan><tspan x="0" dy="3.8">samples = 5</tspan><tspan x="0" dy="3.8">value = 0.108</tspan></text></g>
<g id="t2-n28" transform="translate(978 324.9)"><use href="#r2i"/><text y="-4.65"><tspan x="0">X[1] &lt;= 0.094</tspan><tspan x="0" dy="3.8">mse = 0.043</tspan><tspan x="0" dy="3.8">samples = 3</tspan><tspan x="0" dy="3.8">value = 0.04</tspan></text></g>
<g id="t2-n29" transform="translate(965.5 372.9)"><use href="#r2l"/><text y="-2.75"><tspan x="0">mse = 0.0</tspan><tspan x="0" dy="3.8">samples = 1</tspan><tspan x="0" dy="3.8">value = -0.082</tspan></text></g>
<g id="t2-n30" transform="translate(989.5 372.9)"><use href="#r2i"/><text y="-4.65"><tspan x="0">X[0] &lt;= -0.208</tspan><tspan x="0" dy="3.8">mse = 0.0</tspan><tspan x="0" dy="3.8">samples = 2</tspan><tspan x="0" dy="3.8">value = 0.088</tspan></text></g>
<g id="t2-n31" transform="translate(977 421)"><use href="#r2l"/><text y="-2.75"><tspan x="0">mse = 0.0</tspan><tspan x="0" dy="3.8">samples = 1</tspan><tspan x="0" dy="3.8">value = 0.078</tspan></text></g>
<g id="t2-n32" transform="translate(1001 421)"><use href="#r2l"/><text y="-2.75"><tspan x="0">mse = 0.0</tspan><tspan x="0" dy="3.8">samples = 1</tspan><tspan x="0" dy="3.8">value = 0.098</tspan></text></g>
<g id="t2-n33" transform="translate(1025.5 324.9)"><use href="#r2i"/><text y="-4.65"><tspan x="0">X[1] &lt;= 1.89</tspan><tspan x="0" dy="3.8">mse = 0.067</tspan><tspan x="0" dy="3.8">samples = 2</tspan><tspan x="0" dy="3.8">value = 0.24</tspan></text></g>
<g id="t2-n34" transform="translate(1013.5 372.9)"><use href="#r2l"/><text y="-2.75"><tspan x="0">mse = 0.0</tspan><tspan x="0" dy="3.8">samples = 1</tspan><tspan x="0" dy="3.8">value = -0.032</tspan></text></g>
<g id="t2-n35" transform="translate(1038 372.9)"><use href="#r2l"/><text y="-2.75"><tspan x="0">mse = 0.0</tspan><tspan x="0" dy="3.8">samples = 1</tspan><tspan x="0" dy="3.8">value = 0.512</tspan></text></g>
<g id="t2-n36" transform="translate(1157 180.6)"><use href="#r2i"/><text y="-4.65"><tspan x="0">X[0] &lt;= 0.914</tspan><tspan x="0" dy="3.8">mse = 0.795</tspan><tspan x="0" dy="3.8">samples = 12</tspan><tspan x="0" dy="3.8">value = 0.881</tspan></text></g>
<g id="t2-n37" transform="translate(1109.5 228.7)"><use href="#r2i"/><text y="-4.65"><tspan x="0">X[0] &lt;= 0.875</tspan><tspan x="0" dy="3.8">mse = 0.293</tspan><tspan x="0" dy="3.8">samples = 6</tspan><tspan x="0" dy="3.8">value = 1.477</tspan></text></g>
<g id="t2-n38" transform="translate(1097 276.8)"><use href="#r2i"/><text y="-4.65"><tspan x="0">X[0] &lt;= 0.713</tspan><tspan x="0" dy="3.8">mse = 0.259</tspan><tspan x="0" dy="3.8">samples = 5</tspan><tspan x="0" dy="3.8">value = 1.317</tspan></text></g>
<g id="t2-n39" transform="translate(1073.5 324.9)"><use href="#r2i"/><text y="-4.65"><tspan x="0">X[0] &lt;= 0.662</tspan><tspan x="0" dy="3.8">mse = 0.053</tspan><tspan x="0" dy="3.8">samples = 2</tspan><tspan x="0" dy="3.8">value = 1.588</tspan></text></g>
<g id="t2-n40" transform="translate(1061.5 372.9)"><use href="#r2l"/><text y="-2.75"><tspan x="0">mse = 0.0</tspan><tspan x="0" dy="3.8">samples = 1</tspan><tspan x="0" dy="3.8">value = 1.816</tspan></text></g>
<g id="t2-n41" transform="translate(1085 372.9)"><use href="#r2l"/><text y="-2.75"><tspan x="0">mse = 0.0</tspan><tspan x="0" dy="3.8">samples = 1</tspan><tspan x="0" dy="3.8">value = 1.36</tspan></text></g>
<g id="t2-n42" transform="translate(1121 324.9)"><use href="#r2i"/><text y="-4.65"><tspan x="0">X[0] &lt;= 0.728</tspan><tspan x="0" dy="3.8">mse = 0.004</tspan><tspan x="0" dy="3.8">samples = 3</tspan><tspan x="0" dy="3.8">value = 1.136</tspan></text></g>
<g id="t2-n43" transform="translate(1109 372.9)"><use href="#r2l"/><text y="-2.75"><tspan x="0">mse = 0.0</tspan><tspan x="0" dy="3.8">samples = 1</tspan><tspan x="0" dy="3.8">value = 0.984</tspan></text></g>
<g id="t2-n44" transform="translate(1133 372.9)"><use href="#r2i"/><text y="-4.65"><tspan x="0">X[1] &lt;= 0.762</tspan><tspan x="0" dy="3.8">mse = 0.001</tspan><tspan x="0" dy="3.8">samples = 2</tspan><tspan x="0" dy="3.8">value = 1.212</tspan></text></g>
<g id="t2-n45" transform="translate(1121 421)"><use href="#r2l"/><text y="-2.75"><tspan x="0">mse = 0.0</tspan><tspan x="0" dy="3.8">samples = 1</tspan><tspan x="0" dy="3.8">value = 1.183</tspan></text></g>
<g id="t2-n46" transform="translate(1145.5 421)"><use href="#r2l"/><text y="-2.75"><tspan x="0">mse = 0.0</tspan><tspan x="0" dy="3.8">samples = 1</tspan><tspan x="0" dy="3.8">value = 1.271</tspan></text></g>
<g id="t2-n47" transform="translate(1121 276.8)"><use href="#r2l"/><text y="-2.75"><tspan x="0">mse = 0.0</tspan><tspan x="0" dy="3.8">samples = 1</tspan><tspan x="0" dy="3.8">value = 2.276</tspan></text></g>
<g id="t2-n48" transform="translate(1205.5 228.7)"><use href="#r2i"/><text y="-4.65"><tspan x="0">X[1] &lt;= 1.047</tspan><tspan x="0" dy="3.8">mse = 0.468</tspan><tspan x="0" dy="3.8">samples = 6</tspan><tspan x="0" dy="3.8">value = 0.288</tspan></text></g>
<g id="t2-n49" transform="translate(1193 276.8)"><use href="#r2i"/><text y="-4.65"><tspan x="0">X[1] &lt;= 1.131</tspan><tspan x="0" dy="3.8">mse = 0.052</tspan><tspan x="0" dy="3.8">samples = 5</tspan><tspan x="0" dy="3.8">value = 0.027</tspan></text></g>
<g id="t2-n50" transform="translate(1168 324.9)"><use href="#r2i"/><text y="-4.65"><tspan x="0">X[0] &lt;= 1.024</tspan><tspan x="0" dy="3.8">mse = 0.199</tspan><tspan x="0" dy="3.8">samples = 2</tspan><tspan x="0" dy="3.8">value = 0.427</tspan></text></g>
<g id="t2-n51" transform="translate(1157 372.9)"><use href="#r2l"/><text y="-2.75"><tspan x="0">mse = 0.0</tspan><tspan x="0" dy="3.8">samples = 1</tspan><tspan x="0" dy="3.8">value = 1.1</tspan></text></g>
<g id="t2-n52" transform="translate(1181 372.9)"><use href="#r2l"/><text y="-2.75"><tspan x="0">mse = 0.0</tspan><tspan x="0" dy="3.8">samples = 1</tspan><tspan x="0" dy="3.8">value = -0.246</tspan></text></g>
<g id="t2-n53" transform="translate(1216 324.9)"><use href="#r2i"/><text y="-4.65"><tspan x="0">X[1] &lt;= 0.828</tspan><tspan x="0" dy="3.8">mse = 0.261</tspan><tspan x="0" dy="3.8">samples = 3</tspan><tspan x="0" dy="3.8">value = -0.371</tspan></text></g>
<g id="t2-n54" transform="translate(1204.5 372.9)"><use href="#r2l"/><text y="-2.75"><tspan x="0">mse = 0.0</tspan><tspan x="0" dy="3.8">samples = 1</tspan><tspan x="0" dy="3.8">value = -0.664</tspan></text></g>
<g id="t2-n55" transform="translate(1229 372.9)"><use href="#r2i"/><text y="-4.65"><tspan x="0">X[1] &lt;= 0.133</tspan><tspan x="0" dy="3.8">mse = 0.043</tspan><tspan x="0" dy="3.8">samples = 2</tspan><tspan x="0" dy="3.8">value = -0.227</tspan></text></g>
<g id="t2-n56" transform="translate(1216.5 421)"><use href="#r2l"/><text y="-2.75"><tspan x="0">mse = 0.0</tspan><tspan x="0" dy="3.8">samples = 1</tspan><tspan x="0" dy="3.8">value = -0.343</tspan></text></g>
<g id="t2-n57" transform="translate(1240.5 421)"><use href="#r2l"/><text y="-2.75"><tspan x="0">mse = 0.0</tspan><tspan x="0" dy="3.8">samples = 1</tspan><tspan x="0" dy="3.8">value = -0.111</tspan></text></g>
<g id="t2-n58" transform="translate(1217 276.8)"><use href="#r2l"/><text y="-2.75"><tspan x="0">mse = 0.0</tspan><tspan x="0" dy="3.8">samples = 1</tspan><tspan x="0" dy="3.8">value = 1.57</tspan></text></g>
</g>
<g id="tree3">
<g id="t3-n0" transform="translate(1491.5 81.5)"><use href="#r3i"/><text y="-4.65"><tspan x="0">X[0] &lt;= -0.513</tspan><tspan x="0" dy="3.8">mse = 0.975</tspan><tspan x="0" dy="3.8">samples = 30</tspan><tspan x="0" dy="3.8">value = 0.33</tspan></text></g>
<g id="t3-n1" transform="translate(1408.5 124.4)"><use href="#r3i"/><text y="-4.65"><tspan x="0">X[1] &lt;= -0.637</tspan><tspan x="0" dy="3.8">mse = 0.695</tspan><tspan x="0" dy="3.8">samples = 5</tspan><tspan x="0" dy="3.8">value = -0.88</tspan></text></g>
<g id="t3-n2" transform="translate(1395 167.3)"><use href="#r3i"/><text y="-4.65"><tspan x="0">X[1] &lt;= -0.798</tspan><tspan x="0" dy="3.8">mse = 0.48</tspan><tspan x="0" dy="3.8">samples = 4</tspan><tspan x="0" dy="3.8">value = -0.59</tspan></text></g>
<g id="t3-n3" transform="translate(1382 210.2)"><use href="#r3i"/><text y="-4.65"><tspan x="0">X[0] &lt;= -1.205</tspan><tspan x="0" dy="3.8">mse = 0.159</tspan><tspan x="0" dy="3.8">samples = 3</tspan><tspan x="0" dy="3.8">value = -0.924</tspan></text></g>
<g id="t3-n4" transform="translate(1370 253.1)"><use href="#r3i"/><text y="-4.65"><tspan x="0">X[1] &lt;= -1.267</tspan><tspan x="0" dy="3.8">mse = 0.09</tspan><tspan x="0" dy="3.8">samples = 2</tspan><tspan x="0" dy="3.8">value = -1.181</tspan></text></g>
<g id="t3-n5" transform="translate(1356.5 296)"><use href="#r3l"/><text y="-2.75"><tspan x="0">mse = 0.0</tspan><tspan x="0" dy="3.8">samples = 1</tspan><tspan x="0" dy="3.8">value = -0.884</tspan></text></g>
<g id="t3-n6" transform="translate(1383 296)"><use href="#r3l"/><text y="-2.75"><tspan x="0">mse = 0.0</tspan><tspan x="0" dy="3.8">samples = 1</tspan><tspan x="0" dy="3.8">value = -1.478</tspan></text></g>
<g id="t3-n7" transform="translate(1395.5 253.1)"><use href="#r3l"/><text y="-2.75"><tspan x="0">mse = 0.0</tspan><tspan x="0" dy="3.8">samples = 1</tspan><tspan x="0" dy="3.8">value = -0.407</tspan></text></g>
<g id="t3-n8" transform="translate(1408 210.2)"><use href="#r3l"/><text y="-2.75"><tspan x="0">mse = 0.0</tspan><tspan x="0" dy="3.8">samples = 1</tspan><tspan x="0" dy="3.8">value = 0.406</tspan></text></g>
<g id="t3-n9" transform="translate(1421.5 167.3)"><use href="#r3l"/><text y="-2.75"><tspan x="0">mse = 0.0</tspan><tspan x="0" dy="3.8">samples = 1</tspan><tspan x="0" dy="3.8">value = -2.037</tspan></text></g>
<g id="t3-n10" transform="translate(1575 124.4)"><use href="#r3i"/><text y="-4.65"><tspan x="0">X[0] &lt;= 0.628</tspan><tspan x="0" dy="3.8">mse = 0.88</tspan><tspan x="0" dy="3.8">samples = 25</tspan><tspan x="0" dy="3.8">value = 0.572</tspan></text></g>
<g id="t3-n11" transform="translate(1465 167.3)"><use href="#r3i"/><text y="-4.65"><tspan x="0">X[1] &lt;= -0.139</tspan><tspan x="0" dy="3.8">mse = 0.624</tspan><tspan x="0" dy="3.8">samples = 13</tspan><tspan x="0" dy="3.8">value = 0.296</tspan></text></g>
<g id="t3-n12" transform="translate(1434 210.2)"><use href="#r3i"/><text y="-4.65"><tspan x="0">X[0] &lt;= -0.279</tspan><tspan x="0" dy="3.8">mse = 0.262</tspan><tspan x="0" dy="3.8">samples = 4</tspan><tspan x="0" dy="3.8">value = 1.031</tspan></text></g>
<g id="t3-n13" transform="translate(1420.5 253.1)"><use href="#r3i"/><text y="-4.65"><tspan x="0">X[0] &lt;= -0.376</tspan><tspan x="0" dy="3.8">mse = 0.019</tspan><tspan x="0" dy="3.8">samples = 3</tspan><tspan x="0" dy="3.8">value = 0.751</tspan></text></g>
<g id="t3-n14" transform="translate(1408 296)"><use href="#r3i"/><text y="-4.65"><tspan x="0">X[0] &lt;= -0.419</tspan><tspan x="0" dy="3.8">mse = 0.021</tspan><tspan x="0" dy="3.8">samples = 2</tspan><tspan x="0" dy="3.8">value = 0.855</tspan></text></g>
<g id="t3-n15" transform="translate(1394.5 338.9)"><use href="#r3l"/><text y="-2.75"><tspan x="0">mse = 0.0</tspan><tspan x="0" dy="3.8">samples = 1</tspan><tspan x="0" dy="3.8">value = 0.771</tspan></text></g>
<g id="t3-n16" transform="translate(1420 338.9)"><use href="#r3l"/><text y="-2.75"><tspan x="0">mse = 0.0</tspan><tspan x="0" dy="3.8">samples = 1</tspan><tspan x="0" dy="3.8">value = 0.976</tspan></text></g>
<g id="t3-n17" transform="translate(1433.5 296)"><use href="#r3l"/><text y="-2.75"><tspan x="0">mse = 0.0</tspan><tspan x="0" dy="3.8">samples = 1</tspan><tspan x="0" dy="3.8">value = 0.536</tspan></text></g>
<g id="t3-n18" transform="translate(1445.5 253.1)"><use href="#r3l"/><text y="-2.75"><tspan x="0">mse = 0.0</tspan><tspan x="0" dy="3.8">samples = 1</tspan><tspan x="0" dy="3.8">value = 1.88</tspan></text></g>
<g id="t3-n19" transform="translate(1497 210.2)"><use href="#r3i"/><text y="-4.65"><tspan x="0">X[1] &lt;= 0.183</tspan><tspan x="0" dy="3.8">mse = 0.131</tspan><tspan x="0" dy="3.8">samples = 9</tspan><tspan x="0" dy="3.8">value = -0.042</tspan></text></g>
<g id="t3-n20" transform="translate(1471 253.1)"><use href="#r3i"/><text y="-4.65"><tspan x="0">X[1] &lt;= 0.02</tspan><tspan x="0" dy="3.8">mse = 0.088</tspan><tspan x="0" dy="3.8">samples = 4</tspan><tspan x="0" dy="3.8">value = -0.291</tspan></text></g>
<g id="t3-n21" transform="translate(1458 296)"><use href="#r3l"/><text y="-2.75"><tspan x="0">mse = 0.0</tspan><tspan x="0" dy="3.8">samples = 1</tspan><tspan x="0" dy="3.8">value = -0.005</tspan></text></g>
<g id="t3-n22" transform="translate(1484 296)"><use href="#r3i"/><text y="-4.65"><tspan x="0">X[1] &lt;= 0.103</tspan><tspan x="0" dy="3.8">mse = 0.092</tspan><tspan x="0" dy="3.8">samples = 3</tspan><tspan x="0" dy="3.8">value = -0.386</tspan></text></g>
<g id="t3-n23" transform="translate(1470 338.9)"><use href="#r3l"/><text y="-2.75"><tspan x="0">mse = 0.0</tspan><tspan x="0" dy="3.8">samples = 1</tspan><tspan x="0" dy="3.8">value = -0.682</tspan></text></g>
<g id="t3-n24" transform="translate(1496.5 338.9)"><use href="#r3i"/><text y="-4.65"><tspan x="0">X[1] &lt;= 0.263</tspan><tspan x="0" dy="3.8">mse = 0.038</tspan><tspan x="0" dy="3.8">samples = 2</tspan><tspan x="0" dy="3.8">value = -0.118</tspan></text></g>
<g id="t3-n25" transform="translate(1483.5 381.8)"><use href="#r3l"/><text y="-2.75"><tspan x="0">mse = 0.0</tspan><tspan x="0" dy="3.8">samples = 1</tspan><tspan x="0" dy="3.8">value = 0.07</tspan></text></g>
<g id="t3-n26" transform="translate(1508.5 381.8)"><use href="#r3l"/><text y="-2.75"><tspan x="0">mse = 0.0</tspan><tspan x="0" dy="3.8">samples = 1</tspan><tspan x="0" dy="3.8">value = -0.303</tspan></text></g>
<g id="t3-n27" transform="translate(1521.5 253.1)"><use href="#r3i"/><text y="-4.65"><tspan x="0">X[1] &lt;= 0.236</tspan><tspan x="0" dy="3.8">mse = 0.114</tspan><tspan x="0" dy="3.8">samples = 5</tspan><tspan x="0" dy="3.8">value = 0.108</tspan></text></g>
<g id="t3-n28" transform="translate(1509.5 296)"><use href="#r3l"/><text y="-2.75"><tspan x="0">mse = 0.0</tspan><tspan x="0" dy="3.8">samples = 1</tspan><tspan x="0" dy="3.8">value = 0.458</tspan></text></g>
<g id="t3-n29" transform="translate(1534.5 296)"><use href="#r3i"/><text y="-4.65"><tspan x="0">X[1] &lt;= 0.358</tspan><tspan x="0" dy="3.8">mse = 0.101</tspan><tspan x="0" dy="3.8">samples = 4</tspan><tspan x="0" dy="3.8">value = 0.017</tspan></text></g>
<g id="t3-n30" transform="translate(1522 338.9)"><use href="#r3l"/><text y="-2.75"><tspan x="0">mse = 0.0</tspan><tspan x="0" dy="3.8">samples = 1</tspan><tspan x="0" dy="3.8">value = -0.402</tspan></text></g>
<g id="t3-n31" transform="translate(1547.5 338.9)"><use href="#r3i"/><text y="-4.65"><tspan x="0">X[1] &lt;= 0.427</tspan><tspan x="0" dy="3.8">mse = 0.038</tspan><tspan x="0" dy="3.8">samples = 3</tspan><tspan x="0" dy="3.8">value = 0.155</tspan></text></g>
<g id="t3-n32" transform="translate(1534.5 381.8)"><use href="#r3i"/><text y="-4.65"><tspan x="0">X[1] &lt;= 0.392</tspan><tspan x="0" dy="3.8">mse = 0.001</tspan><tspan x="0" dy="3.8">samples = 2</tspan><tspan x="0" dy="3.8">value = 0.271</tspan></text></g>
<g id="t3-n33" transform="translate(1521.5 424.7)"><use href="#r3l"/><text y="-2.75"><tspan x="0">mse = 0.0</tspan><tspan x="0" dy="3.8">samples = 1</tspan><tspan x="0" dy="3.8">value = 0.269</tspan></text></g>
<g id="t3-n34" transform="translate(1547 424.7)"><use href="#r3l"/><text y="-2.75"><tspan x="0">mse = 0.0</tspan><tspan x="0" dy="3.8">samples = 1</tspan><tspan x="0" dy="3.8">value = 0.274</tspan></text></g>
<g id="t3-n35" transform="translate(1560 381.8)"><use href="#r3l"/><text y="-2.75"><tspan x="0">mse = 0.0</tspan><tspan x="0" dy="3.8">samples = 1</tspan><tspan x="0" dy="3.8">value = -0.048</tspan></text></g>
<g id="t3-n36" transform="translate(1686 167.3)"><use href="#r3i"/><text y="-4.65"><tspan x="0">X[0] &lt;= 0.914</tspan><tspan x="0" dy="3.8">mse = 0.795</tspan><tspan x="0" dy="3.8">samples = 12</tspan><tspan x="0" dy="3.8">value = 0.881</tspan></text></g>
<g id="t3-n37" transform="translate(1623.5 210.2)"><use href="#r3i"/><text y="-4.65"><tspan x="0">X[0] &lt;= 0.875</tspan><tspan x="0" dy="3.8">mse = 0.293</tspan><tspan x="0" dy="3.8">samples = 6</tspan><tspan x="0" dy="3.8">value = 1.477</tspan></text></g>
<g id="t3-n38" transform="translate(1610 253.1)"><use href="#r3i"/><text y="-4.65"><tspan x="0">X[0] &lt;= 0.753</tspan><tspan x="0" dy="3.8">mse = 0.079</tspan><tspan x="0" dy="3.8">samples = 5</tspan><tspan x="0" dy="3.8">value = 1.317</tspan></text></g>
<g id="t3-n39" transform="translate(1585 296)"><use href="#r3i"/><text y="-4.65"><tspan x="0">X[0] &lt;= 0.713</tspan><tspan x="0" dy="3.8">mse = 0.007</tspan><tspan x="0" dy="3.8">samples = 2</tspan><tspan x="0" dy="3.8">value = 1.263</tspan></text></g>
<g id="t3-n40" transform="translate(1572 338.9)"><use href="#r3l"/><text y="-2.75"><tspan x="0">mse = 0.0</tspan><tspan x="0" dy="3.8">samples = 1</tspan><tspan x="0" dy="3.8">value = 1.18</tspan></text></g>
<g id="t3-n41" transform="translate(1597.5 338.9)"><use href="#r3l"/><text y="-2.75"><tspan x="0">mse = 0.0</tspan><tspan x="0" dy="3.8">samples = 1</tspan><tspan x="0" dy="3.8">value = 1.346</tspan></text></g>
<g id="t3-n42" transform="translate(1636 296)"><use href="#r3i"/><text y="-4.65"><tspan x="0">X[1] &lt;= 0.8</tspan><tspan x="0" dy="3.8">mse = 0.057</tspan><tspan x="0" dy="3.8">samples = 3</tspan><tspan x="0" dy="3.8">value = 1.353</tspan></text></g>
<g id="t3-n43" transform="translate(1623.5 338.9)"><use href="#r3l"/><text y="-2.75"><tspan x="0">mse = 0.0</tspan><tspan x="0" dy="3.8">samples = 1</tspan><tspan x="0" dy="3.8">value = 1.816</tspan></text></g>
<g id="t3-n44" transform="translate(1649 338.9)"><use href="#r3i"/><text y="-4.65"><tspan x="0">X[1] &lt;= 0.852</tspan><tspan x="0" dy="3.8">mse = 0.002</tspan><tspan x="0" dy="3.8">samples = 2</tspan><tspan x="0" dy="3.8">value = 1.116</tspan></text></g>
<g id="t3-n45" transform="translate(1635.5 381.8)"><use href="#r3l"/><text y="-2.75"><tspan x="0">mse = 0.0</tspan><tspan x="0" dy="3.8">samples = 1</tspan><tspan x="0" dy="3.8">value = 1.171</tspan></text></g>
<g id="t3-n46" transform="translate(1661 381.8)"><use href="#r3l"/><text y="-2.75"><tspan x="0">mse = 0.0</tspan><tspan x="0" dy="3.8">samples = 1</tspan><tspan x="0" dy="3.8">value = 1.06</tspan></text></g>
<g id="t3-n47" transform="translate(1635 253.1)"><use href="#r3l"/><text y="-2.75"><tspan x="0">mse = 0.0</tspan><tspan x="0" dy="3.8">samples = 1</tspan><tspan x="0" dy="3.8">value = 2.276</tspan></text></g>
<g id="t3-n48" transform="translate(1749.5 210.2)"><use href="#r3i"/><text y="-4.65"><tspan x="0">X[1] &lt;= 1.0</tspan><tspan x="0" dy="3.8">mse = 0.666</tspan><tspan x="0" dy="3.8">samples = 6</tspan><tspan x="0" dy="3.8">value = 0.288</tspan></text></g>
<g id="t3-n49" transform="translate(1724.5 253.1)"><use href="#r3i"/><text y="-4.65"><tspan x="0">X[1] &lt;= 1.06</tspan><tspan x="0" dy="3.8">mse = 0.622</tspan><tspan x="0" dy="3.8">samples = 4</tspan><tspan x="0" dy="3.8">value = 0.62</tspan></text></g>
<g id="t3-n50" transform="translate(1711 296)"><use href="#r3i"/><text y="-4.65"><tspan x="0">X[1] &lt;= 1.262</tspan><tspan x="0" dy="3.8">mse = 0.029</tspan><tspan x="0" dy="3.8">samples = 3</tspan><tspan x="0" dy="3.8">value = 0.108</tspan></text></g>
<g id="t3-n51" transform="translate(1699.5 338.9)"><use href="#r3i"/><text y="-4.65"><tspan x="0">X[1] &lt;= 1.059</tspan><tspan x="0" dy="3.8">mse = 0.029</tspan><tspan x="0" dy="3.8">samples = 2</tspan><tspan x="0" dy="3.8">value = 0.027</tspan></text></g>
<g id="t3-n52" transform="translate(1686.5 381.8)"><use href="#r3l"/><text y="-2.75"><tspan x="0">mse = 0.0</tspan><tspan x="0" dy="3.8">samples = 1</tspan><tspan x="0" dy="3.8">value = -0.144</tspan></text></g>
<g id="t3-n53" transform="translate(1712 381.8)"><use href="#r3l"/><text y="-2.75"><tspan x="0">mse = 0.0</tspan><tspan x="0" dy="3.8">samples = 1</tspan><tspan x="0" dy="3.8">value = 0.198</tspan></text></g>
<g id="t3-n54" transform="translate(1724.5 338.9)"><use href="#r3l"/><text y="-2.75"><tspan x="0">mse = 0.0</tspan><tspan x="0" dy="3.8">samples = 1</tspan><tspan x="0" dy="3.8">value = -0.348</tspan></text></g>
<g id="t3-n55" transform="translate(1737 296)"><use href="#r3l"/><text y="-2.75"><tspan x="0">mse = 0.0</tspan><tspan x="0" dy="3.8">samples = 1</tspan><tspan x="0" dy="3.8">value = 1.57</tspan></text></g>
<g id="t3-n56" transform="translate(1774.5 253.1)"><use href="#r3i"/><text y="-4.65"><tspan x="0">X[1] &lt;= 1.797</tspan><tspan x="0" dy="3.8">mse = 0.071</tspan><tspan x="0" dy="3.8">samples = 2</tspan><tspan x="0" dy="3.8">value = -0.298</tspan></text></g>
<g id="t3-n57" transform="translate(1762 296)"><use href="#r3l"/><text y="-2.75"><tspan x="0">mse = 0.0</tspan><tspan x="0" dy="3.8">samples = 1</tspan><tspan x="0" dy="3.8">value = -0.484</tspan></text></g>
<g id="t3-n58" transform="translate(1788.5 296)"><use href="#r3l"/><text y="-2.75"><tspan x="0">mse = 0.0</tspan><tspan x="0" dy="3.8">samples = 1</tspan><tspan x="0" dy="3.8">value = -0.111</tspan></text></g>
</g>
</svg>
